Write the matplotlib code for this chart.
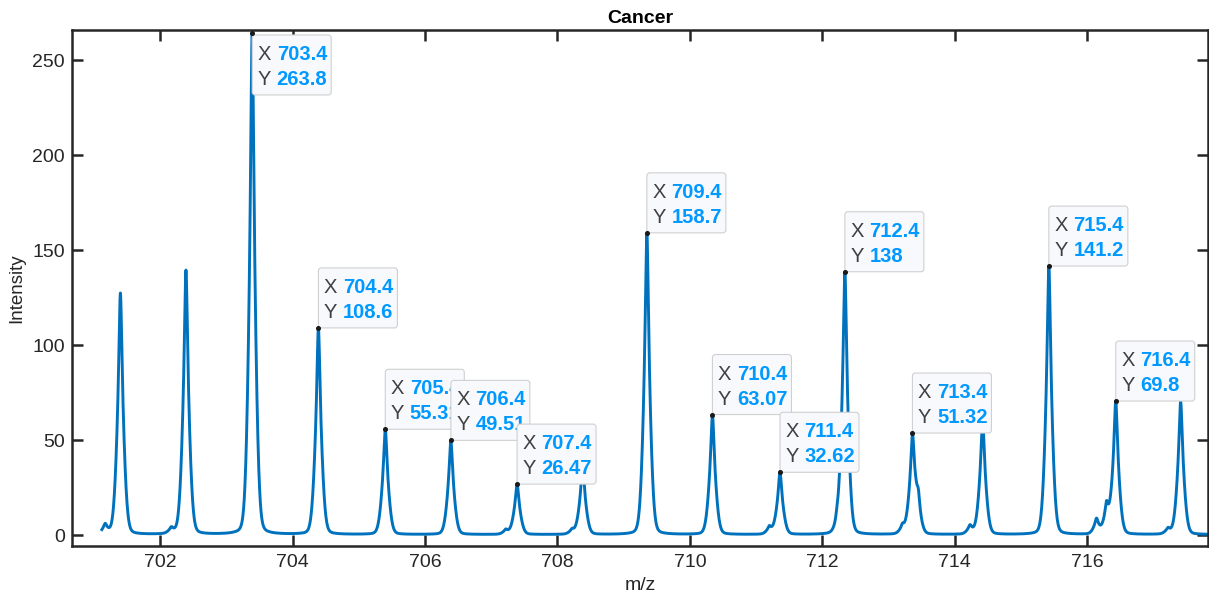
import numpy as np
import matplotlib.pyplot as plt
from matplotlib.patches import FancyBboxPatch
from matplotlib.transforms import ScaledTranslation

plt.rcParams['font.family'] = ['Liberation Sans', 'DejaVu Sans']

# main isotope peaks
peak_mz = [701.40, 702.39, 703.39, 704.39, 705.40, 706.39, 707.39, 708.38, 709.35,
           710.34, 711.36, 712.34, 713.36, 714.42, 715.42, 716.43, 717.41]
peak_int = [127.0, 139.0, 263.8, 108.6, 55.31, 49.51, 26.47, 36.0, 158.7,
            63.07, 32.62, 138.0, 51.32, 60.0, 141.2, 69.8, 70.0]

# small side bumps / shoulders
shoulder_mz = [701.17, 702.17, 707.22, 708.22, 711.20, 712.22, 713.21, 713.45,
               714.23, 716.14, 716.29, 717.22]
shoulder_int = [5.0, 3.0, 2.5, 2.5, 4.0, 5.0, 4.5, 15.0, 4.5, 8.0, 15.0, 3.0]

baseline = 0.4
mz_start, mz_end = 701.12, 717.82

# data tips shown on the figure
tip_x = ['703.4', '704.4', '705.4', '706.4', '707.4', '709.4', '710.4', '711.4',
         '712.4', '713.4', '715.4', '716.4']
tip_y = ['263.8', '108.6', '55.31', '49.51', '26.47', '158.7', '63.07', '32.62',
         '138', '51.32', '141.2', '69.8']


def peak_shape(dx, scale=1.0):
    """pseudo-voigt profile, sharp top with a wider foot"""
    g = 0.027 * scale
    s = 0.055 * scale
    return 0.5 / (1 + (dx / g) ** 2) + 0.5 * np.exp(-dx ** 2 / (2 * s ** 2))


mz = np.arange(mz_start, mz_end, 0.002)
intensity = np.full_like(mz, baseline)
for c, h in zip(peak_mz, peak_int):
    intensity += h * peak_shape(mz - c)
for c, h in zip(shoulder_mz, shoulder_int):
    intensity += h * peak_shape(mz - c, 0.9)

fig = plt.figure(figsize=(12.09, 6.03), dpi=100)
ax = fig.add_axes([0.0596, 0.0945, 0.9394, 0.8555])

ax.plot(mz, intensity, color='#0072BD', lw=2.1, zorder=2)

ax.set_xlim(700.67, 717.82)
ax.set_ylim(-5.6, 265.8)
ax.set_xticks(np.arange(702, 717, 2))
ax.set_yticks(np.arange(0, 251, 50))

dark = '#262626'
for sp in ax.spines.values():
    sp.set_linewidth(1.8)
    sp.set_color(dark)
ax.tick_params(direction='in', length=8, width=1.8, color=dark, labelcolor=dark,
               labelsize=14, top=True, right=True)
ax.tick_params(axis='x', pad=6)
ax.tick_params(axis='y', pad=5)

ax.set_title('Cancer', fontsize=14, fontweight='bold', pad=5)
ax.set_xlabel('m/z', fontsize=14, color=dark, labelpad=4)
ax.set_ylabel('Intensity', fontsize=13.5, color=dark, labelpad=5)

# data tips, MATLAB style (boxes overlap on purpose, later ones on top)
box_w, box_h = 0.79, 0.60   # inches at dpi 100
y_per_px = (265.8 + 5.6) / (0.8555 * 603)
for i, (tx, ty) in enumerate(zip(tip_x, tip_y)):
    j = int(np.argmin(np.abs(np.array(peak_mz) - float(tx))))
    px = peak_mz[j]
    py = np.interp(px, mz, intensity)
    # flip the box below the point when it would leave the axes
    if py + 62 * y_per_px > 265.8:
        b = -0.62
    else:
        b = 0.0
    trans = fig.dpi_scale_trans + ScaledTranslation(px, py, ax.transData)
    z = 4 + 3 * i
    box = FancyBboxPatch((0.0, b), box_w, box_h,
                         boxstyle='round,pad=0,rounding_size=0.03',
                         transform=trans, facecolor='#f8f9fd', edgecolor='#d0d0d0',
                         lw=0.8, zorder=z, clip_on=False)
    ax.add_patch(box)
    for k, (lab, val) in enumerate([('X', tx), ('Y', ty)]):
        yb = b + (0.35 if k == 0 else 0.10)
        ax.text(0.055, yb, lab, transform=trans, fontsize=14.5, color='#404040',
                va='baseline', ha='left', zorder=z + 1)
        ax.text(0.245, yb, val, transform=trans, fontsize=14.5, color='#0099ff',
                fontweight='bold', va='baseline', ha='left', zorder=z + 1)
    ax.plot([px], [py], 'o', ms=2.6, color='#1a1a1a', zorder=z + 2, clip_on=False)

fig.savefig('out.png', dpi=100)
